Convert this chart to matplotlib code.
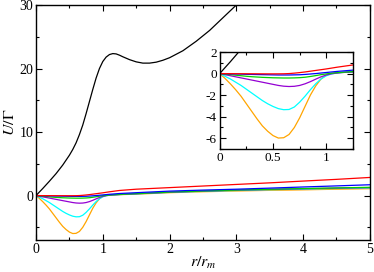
import numpy as np
import matplotlib
matplotlib.use("Agg")
import matplotlib.pyplot as plt
from matplotlib.ticker import MultipleLocator

plt.rcParams["font.family"] = ["Liberation Serif", "DejaVu Serif"]
plt.rcParams["mathtext.fontset"] = "stix"
plt.rcParams["axes.unicode_minus"] = False

# black curve (hard core)
r_black = [0, 0.1, 0.2, 0.3, 0.4, 0.5, 0.55, 0.6, 0.65, 0.7, 0.75, 0.8, 0.85, 0.9,
           0.95, 1.0, 1.05, 1.1, 1.15, 1.2, 1.25, 1.3, 1.4, 1.5, 1.6, 1.7, 1.8, 1.9,
           2.0, 2.2, 2.4, 2.6, 2.8, 3.0, 3.1]
u_black = [0, 1.1, 2.25, 3.45, 4.8, 6.35, 7.25, 8.3, 9.6, 11.1, 12.9, 14.8, 16.7, 18.5,
           20.0, 21.1, 21.8, 22.2, 22.35, 22.3, 22.1, 21.85, 21.4, 21.05, 20.85, 20.85,
           21.0, 21.3, 21.7, 22.8, 24.3, 26.0, 28.0, 30.0, 31.1]

# coloured curves share one r grid
r_col = [0, 0.05, 0.1, 0.15, 0.2, 0.25, 0.3, 0.35, 0.4, 0.45, 0.5, 0.55, 0.6, 0.65,
         0.7, 0.75, 0.8, 0.85, 0.9, 0.95, 1.0, 1.05, 1.1, 1.15, 1.2, 1.25,
         1.5, 2.0, 2.5, 3.0, 3.5, 4.0, 4.5, 5.0]

u_red = [0, -0.005, -0.01, -0.012, -0.015, -0.018, -0.02, -0.022, -0.025, -0.027, -0.028,
         -0.025, -0.02, 0.0, 0.04, 0.09, 0.15, 0.22, 0.29, 0.36, 0.43, 0.51, 0.59, 0.66,
         0.73, 0.8, 1.0, 1.25, 1.5, 1.75, 2.0, 2.28, 2.55, 2.85]
u_blue = [0, -0.01, -0.03, -0.04, -0.05, -0.07, -0.08, -0.09, -0.1, -0.11, -0.12, -0.13,
          -0.13, -0.13, -0.12, -0.11, -0.08, -0.04, 0.0, 0.05, 0.1, 0.15, 0.2, 0.24,
          0.28, 0.32, 0.45, 0.7, 0.86, 1.0, 1.17, 1.35, 1.52, 1.7]
u_green = [0, -0.05, -0.1, -0.15, -0.2, -0.25, -0.29, -0.32, -0.35, -0.37, -0.39, -0.4,
           -0.41, -0.41, -0.4, -0.38, -0.34, -0.27, -0.19, -0.1, -0.03, 0.03, 0.08, 0.12,
           0.15, 0.18, 0.3, 0.55, 0.72, 0.87, 0.99, 1.1, 1.2, 1.3]
u_violet = [0, -0.1, -0.2, -0.3, -0.4, -0.5, -0.6, -0.7, -0.8, -0.9, -1.0, -1.1, -1.17,
            -1.2, -1.18, -1.1, -0.95, -0.75, -0.52, -0.3, -0.13, -0.02, 0.05, 0.1, 0.13,
            0.16, 0.28, 0.52, 0.7, 0.85, 0.97, 1.07, 1.17, 1.25]
u_cyan = [0, -0.25, -0.5, -0.8, -1.1, -1.45, -1.8, -2.15, -2.5, -2.8, -3.05, -3.25, -3.35,
          -3.33, -3.1, -2.65, -2.1, -1.5, -0.95, -0.5, -0.2, -0.03, 0.05, 0.1, 0.13, 0.16,
          0.27, 0.5, 0.66, 0.8, 0.92, 1.02, 1.12, 1.2]
u_orange = [0, -0.45, -0.95, -1.5, -2.1, -2.8, -3.5, -4.2, -4.85, -5.35, -5.75, -5.98,
            -5.95, -5.65, -5.0, -4.1, -3.05, -2.0, -1.15, -0.5, -0.12, 0.03, 0.08, 0.1,
            0.12, 0.14, 0.22, 0.45, 0.6, 0.72, 0.82, 0.9, 1.0, 1.08]

curves = [
    (u_orange, "#ffa500"),
    (u_cyan, "#00ffff"),
    (u_violet, "#9400d3"),
    (u_green, "#00d000"),
    (u_blue, "#0000ff"),
    (u_red, "#ff0000"),
]


def style_axes(ax, fs):
    ax.tick_params(which="both", direction="in", top=True, right=True,
                   labelsize=fs, pad=2, width=0.8)
    ax.tick_params(which="major", length=4.5)
    ax.tick_params(which="minor", length=2.5)
    for spine in ax.spines.values():
        spine.set_linewidth(1.0)


fig = plt.figure(figsize=(3.74, 2.72), dpi=100)
ax = fig.add_axes([0.0963, 0.1176, 0.8927, 0.864])

ax.plot(r_black, u_black, color="black", lw=0.9)
for u, c in curves:
    ax.plot(r_col, u, color=c, lw=0.9)

ax.set_xlim(0, 5)
ax.set_ylim(-7, 30)
ax.xaxis.set_major_locator(MultipleLocator(1))
ax.xaxis.set_minor_locator(MultipleLocator(0.5))
ax.yaxis.set_major_locator(MultipleLocator(10))
ax.yaxis.set_minor_locator(MultipleLocator(5))
style_axes(ax, 10)
ax.set_xlabel("$r/r_m$", fontsize=11.5, labelpad=-1)
ax.set_ylabel("$U/\\Gamma$", fontsize=11.5, labelpad=1)

# --- inset
axin = fig.add_axes([0.5874, 0.452, 0.3565, 0.3568])
axin.plot(r_black, u_black, color="black", lw=0.9)
for u, c in curves:
    axin.plot(r_col, u, color=c, lw=0.9)

axin.set_xlim(0, 1.25)
axin.set_ylim(-7, 2)
axin.xaxis.set_major_locator(MultipleLocator(0.5))
axin.xaxis.set_minor_locator(MultipleLocator(0.25))
axin.yaxis.set_major_locator(MultipleLocator(2))
axin.yaxis.set_minor_locator(MultipleLocator(1))
axin.xaxis.set_major_formatter(lambda v, p: f"{v:g}")
style_axes(axin, 9.5)

fig.savefig("out.png", dpi=100, facecolor="white")
